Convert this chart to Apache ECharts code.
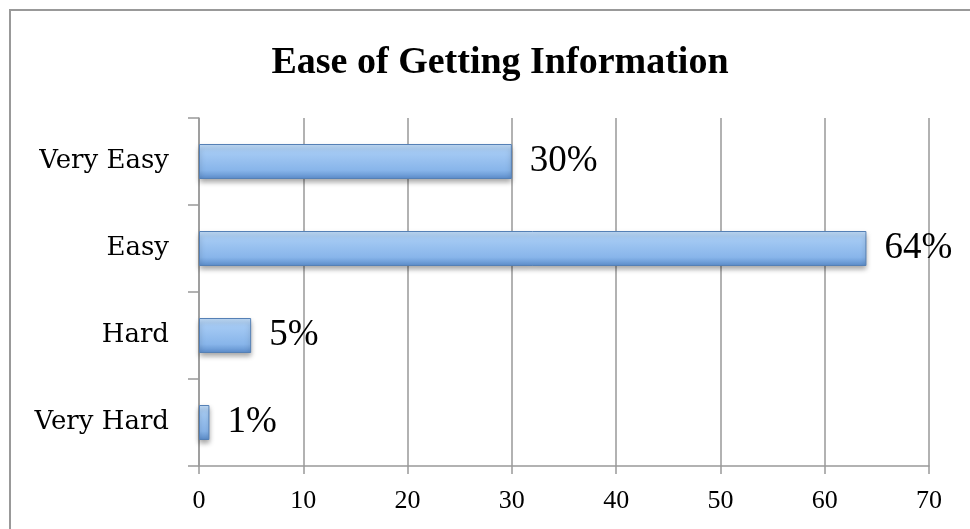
<!DOCTYPE html>
<html><head><meta charset="utf-8">
<script src="https://cdn.jsdelivr.net/npm/echarts@6/dist/echarts.min.js"></script>
<style>html,body{margin:0;padding:0;background:#fff}#c{width:970px;height:529px}</style>
</head><body><div id="c"></div>
<script>
const titleText = 'Ease of Getting Information';
const categories = ['Very Hard', 'Hard', 'Easy', 'Very Easy'];
const values = [1, 5, 64, 30];
const xTicks = [0, 10, 20, 30, 40, 50, 60, 70];

const serif = '"Liberation Serif", "DejaVu Serif", serif';
const wideSerif = '"DejaVu Serif", "Liberation Serif", serif';
const chart = echarts.init(document.getElementById('c'), null, {renderer: 'canvas'});
chart.setOption({
  animation: false,
  backgroundColor: '#fff',
  title: {
    text: titleText, left: 495, textAlign: 'center', top: 39,
    textStyle: {fontFamily: serif, fontWeight: 'bold', fontSize: 38, color: '#000'}
  },
  graphic: [{
    type: 'rect', shape: {x: 10, y: 10, width: 980, height: 540},
    style: {fill: 'none', stroke: '#999', lineWidth: 2}, silent: true
  }],
  grid: {left: 199, right: 41, top: 118, bottom: 63, containLabel: false},
  xAxis: {
    type: 'value', min: xTicks[0], max: xTicks[xTicks.length - 1], interval: 10,
    axisLine: {show: true, lineStyle: {color: '#999', width: 1.5}},
    axisTick: {show: true, length: 8, lineStyle: {color: '#999', width: 1.5}},
    splitLine: {show: true, lineStyle: {color: '#999', width: 1.5}},
    axisLabel: {fontFamily: serif, fontSize: 26, color: '#000', margin: 22}
  },
  yAxis: {
    type: 'category', data: categories,
    axisLine: {show: true, lineStyle: {color: '#999', width: 1.5}},
    axisTick: {show: true, length: 11, lineStyle: {color: '#999', width: 1.5}},
    axisLabel: {fontFamily: wideSerif, fontSize: 26, color: '#000', margin: 30}
  },
  series: [{
    type: 'bar', data: values, barWidth: 35,
    itemStyle: {
      color: new echarts.graphic.LinearGradient(0, 0, 0, 1, [
        {offset: 0, color: '#c4def9'},
        {offset: 0.2, color: '#a6cbf4'},
        {offset: 0.75, color: '#88b5ea'},
        {offset: 1, color: '#5b8cca'}
      ]),
      borderColor: '#5580b5', borderWidth: 1,
      shadowColor: 'rgba(0,0,0,0.35)', shadowBlur: 5, shadowOffsetY: 3
    },
    label: {
      show: true, position: 'right', distance: 18,
      formatter: p => p.value + '%',
      fontFamily: serif, fontSize: 37, color: '#000'
    }
  }]
});
</script></body></html>
